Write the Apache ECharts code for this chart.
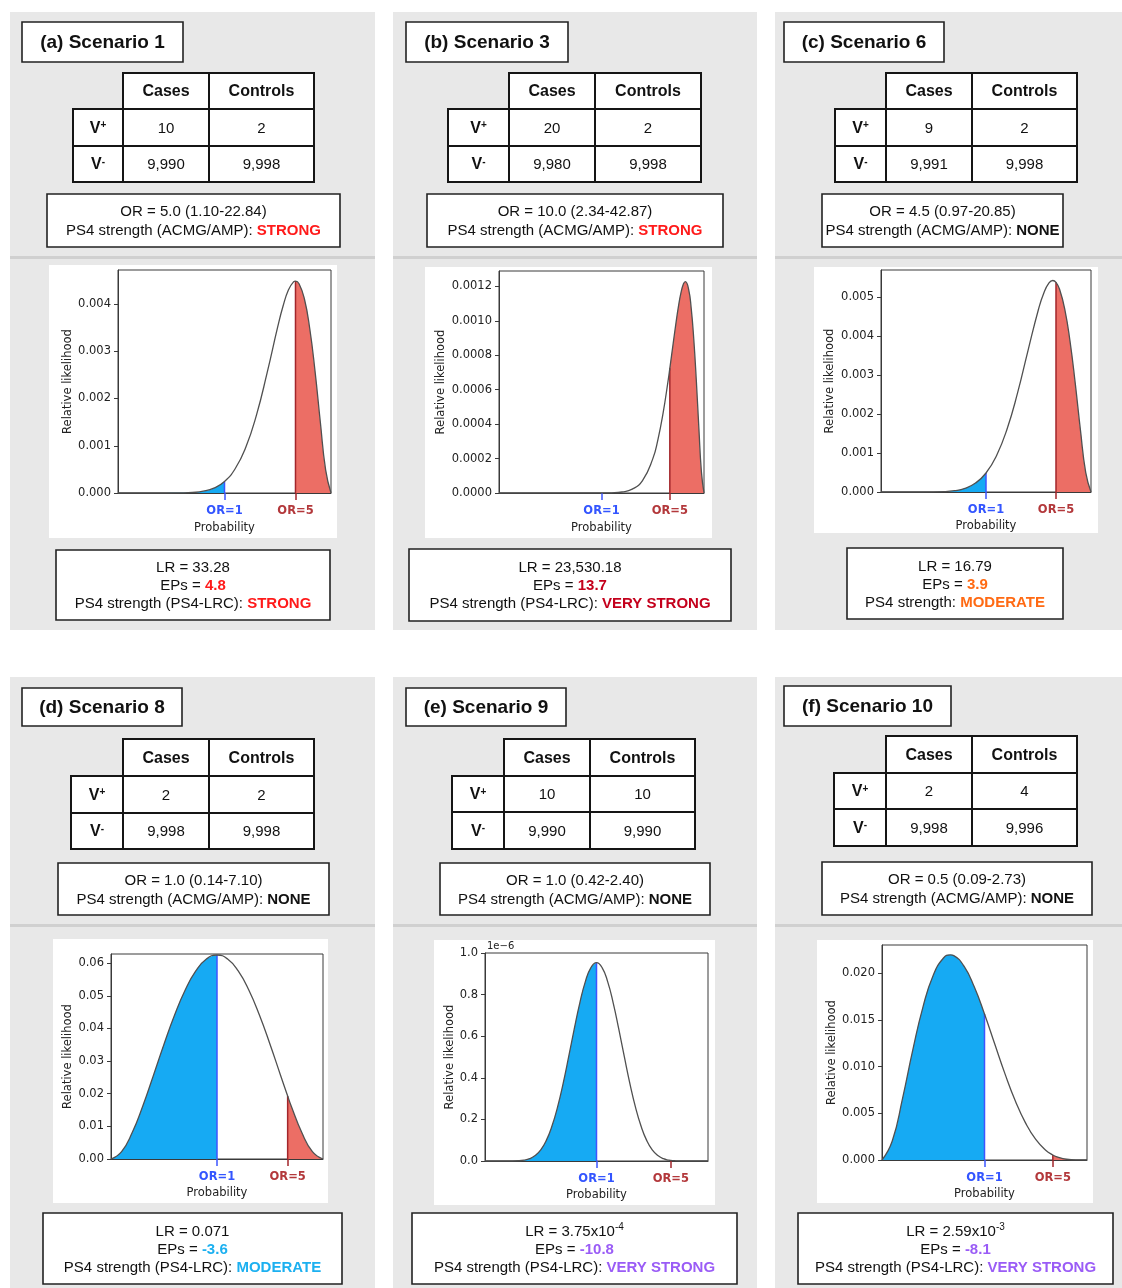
<!DOCTYPE html>
<html>
<head>
<meta charset="utf-8">
<script src="https://cdn.jsdelivr.net/npm/echarts@6.0.0/dist/echarts.min.js"></script>
<style>
html,body{margin:0;padding:0;background:#ffffff;}
#chart{width:1122px;height:1288px;}
</style>
</head>
<body>
<div id="chart"></div>
<script>
// ================= DATA =================
const panelTitles = ['(a) Scenario 1', '(b) Scenario 3', '(c) Scenario 6', '(d) Scenario 8', '(e) Scenario 9', '(f) Scenario 10'];
const tableHeaders = ['Cases', 'Controls'];
const rowSigns = ['+', '-'];
const casesVplus = ['10', '20', '9', '2', '10', '2'];
const controlsVplus = ['2', '2', '2', '2', '10', '4'];
const casesVminus = ['9,990', '9,980', '9,991', '9,998', '9,990', '9,998'];
const controlsVminus = ['9,998', '9,998', '9,998', '9,998', '9,990', '9,996'];
const orLines = ['OR = 5.0 (1.10-22.84)', 'OR = 10.0 (2.34-42.87)', 'OR = 4.5 (0.97-20.85)', 'OR = 1.0 (0.14-7.10)', 'OR = 1.0 (0.42-2.40)', 'OR = 0.5 (0.09-2.73)'];
const acmgLabel = 'PS4 strength (ACMG/AMP): ';
const acmgStrength = ['STRONG', 'STRONG', 'NONE', 'NONE', 'NONE', 'NONE'];
const lrValues = ['33.28', '23,530.18', '16.79', '0.071', '3.75x10', '2.59x10'];
const lrExponents = ['', '', '', '', '-4', '-3'];
const epsValues = ['4.8', '13.7', '3.9', '-3.6', '-10.8', '-8.1'];
const lrcLabels = ['PS4 strength (PS4-LRC): ', 'PS4 strength (PS4-LRC): ', 'PS4 strength: ', 'PS4 strength (PS4-LRC): ', 'PS4 strength (PS4-LRC): ', 'PS4 strength (PS4-LRC): '];
const lrcStrength = ['STRONG', 'VERY STRONG', 'MODERATE', 'MODERATE', 'VERY STRONG', 'VERY STRONG'];

const markerLabels = ['OR=1', 'OR=5'];
const markerProb = [0.5, 0.8333];
const xAxisName = 'Probability';
const yAxisName = 'Relative likelihood';

// relative likelihood curves (x = probability 0..1)
const prob_a = [0, 0.1, 0.2, 0.3, 0.35, 0.4, 0.45, 0.5, 0.55, 0.6, 0.65, 0.7, 0.75, 0.775, 0.8, 0.825, 0.8333, 0.85, 0.875, 0.9, 0.925, 0.95, 0.975, 1];
const lik_a  = [0, 0, 0.0000001, 0.0000029, 0.0000117, 0.0000377, 0.000103, 0.000244, 0.000513, 0.000967, 0.001649, 0.002542, 0.003520, 0.003957, 0.004295, 0.004473, 0.004486, 0.004430, 0.004111, 0.003487, 0.002580, 0.001497, 0.000485, 0];

const prob_b = [0, 0.5, 0.55, 0.6, 0.65, 0.7, 0.75, 0.775, 0.8, 0.825, 0.8333, 0.85, 0.8625, 0.875, 0.8875, 0.9, 0.9091, 0.925, 0.9375, 0.95, 0.9625, 0.975, 0.9875, 1];
const lik_b  = [0, 0.0000002, 0.0000013, 0.0000059, 0.0000222, 0.0000718, 0.0001982, 0.0003093, 0.0004612, 0.0006534, 0.0007246, 0.0008721, 0.0009813, 0.0010814, 0.0011630, 0.0012158, 0.0012280, 0.0011829, 0.0010745, 0.0008962, 0.0006548, 0.0003767, 0.0001215, 0];

const prob_c = [0, 0.1, 0.2, 0.3, 0.35, 0.4, 0.45, 0.5, 0.55, 0.6, 0.65, 0.7, 0.75, 0.775, 0.8, 0.8182, 0.8333, 0.85, 0.875, 0.9, 0.925, 0.95, 0.975, 1];
const lik_c  = [0, 0, 0.0000003, 0.0000096, 0.0000333, 0.0000944, 0.0002289, 0.0004883, 0.000933, 0.001612, 0.002537, 0.003632, 0.004693, 0.005106, 0.005369, 0.005431, 0.005384, 0.005211, 0.004698, 0.003874, 0.002789, 0.001576, 0.000498, 0];

const prob_d = [0, 0.05, 0.1, 0.15, 0.2, 0.25, 0.3, 0.35, 0.4, 0.45, 0.5, 0.55, 0.6, 0.65, 0.7, 0.75, 0.8, 0.8333, 0.85, 0.9, 0.95, 1];
const lik_d  = [0, 0.002256, 0.0081, 0.016256, 0.0256, 0.035156, 0.0441, 0.051756, 0.0576, 0.061256, 0.0625, 0.061256, 0.0576, 0.051756, 0.0441, 0.035156, 0.0256, 0.01929, 0.016256, 0.0081, 0.002256, 0];

const prob_e = [0, 0.1, 0.15, 0.175, 0.2, 0.225, 0.25, 0.275, 0.3, 0.325, 0.35, 0.375, 0.4, 0.425, 0.45, 0.475, 0.5, 0.525, 0.55, 0.575, 0.6, 0.625, 0.65, 0.675, 0.7, 0.725, 0.75, 0.775, 0.8, 0.825, 0.8333, 0.85, 0.9, 1];
const lik_e  = [0, 0, 1.1e-9, 3.9e-9, 1.10e-8, 2.60e-8, 5.37e-8, 9.92e-8, 1.668e-7, 2.581e-7, 3.713e-7, 5.002e-7, 6.34e-7, 7.595e-7, 8.624e-7, 9.30e-7, 9.537e-7, 9.30e-7, 8.624e-7, 7.595e-7, 6.34e-7, 5.002e-7, 3.713e-7, 2.581e-7, 1.668e-7, 9.92e-8, 5.37e-8, 2.60e-8, 1.10e-8, 3.9e-9, 2.7e-9, 1.1e-9, 0, 0];

const prob_f = [0, 0.05, 0.1, 0.15, 0.2, 0.25, 0.3, 0.3333, 0.35, 0.4, 0.45, 0.5, 0.55, 0.6, 0.65, 0.7, 0.75, 0.8, 0.8333, 0.85, 0.9, 0.95, 1];
const lik_f  = [0, 0.002036, 0.006561, 0.011745, 0.016384, 0.019775, 0.021609, 0.021948, 0.021867, 0.020736, 0.018530, 0.015625, 0.012404, 0.009216, 0.006340, 0.003969, 0.002197, 0.001024, 0.000536, 0.000366, 0.000081, 0.0000056, 0];

// y-axis ticks and their labels
const yTicks_a = [0, 0.001, 0.002, 0.003, 0.004];
const yTickLabels_a = ['0.000', '0.001', '0.002', '0.003', '0.004'];
const yTicks_b = [0, 0.0002, 0.0004, 0.0006, 0.0008, 0.0010, 0.0012];
const yTickLabels_b = ['0.0000', '0.0002', '0.0004', '0.0006', '0.0008', '0.0010', '0.0012'];
const yTicks_c = [0, 0.001, 0.002, 0.003, 0.004, 0.005];
const yTickLabels_c = ['0.000', '0.001', '0.002', '0.003', '0.004', '0.005'];
const yTicks_d = [0, 0.01, 0.02, 0.03, 0.04, 0.05, 0.06];
const yTickLabels_d = ['0.00', '0.01', '0.02', '0.03', '0.04', '0.05', '0.06'];
const yTicks_e = [0, 0.2e-6, 0.4e-6, 0.6e-6, 0.8e-6, 1.0e-6];
const yTickLabels_e = ['0.0', '0.2', '0.4', '0.6', '0.8', '1.0'];
const yTicks_f = [0, 0.005, 0.010, 0.015, 0.020];
const yTickLabels_f = ['0.000', '0.005', '0.010', '0.015', '0.020'];
const yAxisMax = [0.00472, 0.00129, 0.0057, 0.0628, 0.000001, 0.023];
const offsetText_e = '1e\u22126';

// ================= STYLE / LAYOUT =================
const FONT_BOX = "'Liberation Sans', Arial, sans-serif";
const FONT_PLOT = "'DejaVu Sans', sans-serif";
const acmgColors = ['#ff1a1a', '#ff1a1a', '#111111', '#111111', '#111111', '#111111'];
const lrColors = ['#ff1a1a', '#c4001c', '#ff6a13', '#1cb0f0', '#9a5cf6', '#9a5cf6'];
const BLUE_FILL = '#16aaf3', RED_FILL = '#ec6e65';
const BLUE_LINE = '#3d55ff', RED_LINE = '#a3262b';
const BLUE_TXT = '#3355ff', RED_TXT = '#b3383b';
const PLOT_FS = 11.5;

const layout = [
  {bg:[10,12,365,618], divider:256, title:[22,22,161,40], cols:[73,123,209,314], rows:[73,109,146,182], orBox:[47,194,293,53], plotBg:[49,265,288,273], axes:[118,270,331,493], lrBox:[56,550,274,70], yNameGap:44, xNameGap:29, labelMargin:12},
  {bg:[393,12,364,618], divider:256, title:[406,22,162,40], cols:[448,509,595,701], rows:[73,109,146,182], orBox:[427,194,296,53], plotBg:[425,267,287,271], axes:[499,271,704,493], lrBox:[409,549,322,72], yNameGap:52, xNameGap:29, labelMargin:12},
  {bg:[775,12,347,618], divider:256, title:[784,22,160,40], cols:[835,886,972,1077], rows:[73,109,146,182], orBox:[822,194,241,53], plotBg:[814,267,284,266], axes:[881,270,1091,492], lrBox:[847,548,216,71], yNameGap:45, xNameGap:28, labelMargin:12},
  {bg:[10,677,365,611], divider:924, title:[22,688,160,38], cols:[71,123,209,314], rows:[739,776,813,849], orBox:[58,863,271,52], plotBg:[53,939,275,264], axes:[111,954,323,1159], lrBox:[43,1213,299,71], yNameGap:36, xNameGap:28, labelMargin:12},
  {bg:[393,677,364,611], divider:924, title:[406,688,160,38], cols:[452,504,590,695], rows:[739,776,812,849], orBox:[440,863,270,52], plotBg:[434,940,281,265], axes:[485,953,708,1161], lrBox:[412,1213,325,71], yNameGap:29, xNameGap:28, labelMargin:12},
  {bg:[775,677,347,611], divider:924, title:[784,686,167,40], cols:[834,886,972,1077], rows:[736,773,809,846], orBox:[822,862,270,53], plotBg:[817,940,276,263], axes:[882,945,1087,1160], lrBox:[798,1213,315,71], yNameGap:43, xNameGap:28, labelMargin:12}
];

const plots = [
  {prob: prob_a, lik: lik_a, ticks: yTicks_a, labels: yTickLabels_a},
  {prob: prob_b, lik: lik_b, ticks: yTicks_b, labels: yTickLabels_b},
  {prob: prob_c, lik: lik_c, ticks: yTicks_c, labels: yTickLabels_c},
  {prob: prob_d, lik: lik_d, ticks: yTicks_d, labels: yTickLabels_d},
  {prob: prob_e, lik: lik_e, ticks: yTicks_e, labels: yTickLabels_e},
  {prob: prob_f, lik: lik_f, ticks: yTicks_f, labels: yTickLabels_f}
];

// ================= GRAPHIC (boxes, tables, texts) =================
const G = [];
function R(x, y, w, h, fill, stroke, lw, z) {
  G.push({type: 'rect', silent: true, z: z, shape: {x: x, y: y, width: w, height: h},
    style: {fill: fill, stroke: stroke || null, lineWidth: lw || 0}});
}
function T(x, y, str, style, z) {
  G.push({type: 'text', silent: true, z: z || 30, x: x, y: y,
    style: Object.assign({text: str, x: 0, y: 0, align: 'center', verticalAlign: 'middle',
      textAlign: 'center', textVerticalAlign: 'middle', fill: '#111111',
      fontFamily: FONT_BOX, fontSize: 15}, style)});
}

layout.forEach(function (L, i) {
  R(L.bg[0], L.bg[1], L.bg[2], L.bg[3], '#e8e8e8', null, 0, -20);
  R(L.bg[0], L.divider, L.bg[2], 3, '#d0d0d0', null, 0, -19);
  R(L.title[0], L.title[1], L.title[2], L.title[3], '#ffffff', '#222222', 1.6, 10);
  T(L.title[0] + L.title[2] / 2, L.title[1] + L.title[3] / 2 + 1, panelTitles[i], {fontSize: 19, fontWeight: 'bold'});
  const c = L.cols, r = L.rows;
  const cells = [
    [c[1], r[0], c[2], r[1], '{h|' + tableHeaders[0] + '}'],
    [c[2], r[0], c[3], r[1], '{h|' + tableHeaders[1] + '}'],
    [c[0], r[1], c[1], r[2], '{h|V}{s|' + rowSigns[0] + '}'],
    [c[0], r[2], c[1], r[3], '{h|V}{s|' + rowSigns[1] + '}'],
    [c[1], r[1], c[2], r[2], casesVplus[i]],
    [c[2], r[1], c[3], r[2], controlsVplus[i]],
    [c[1], r[2], c[2], r[3], casesVminus[i]],
    [c[2], r[2], c[3], r[3], controlsVminus[i]]
  ];
  cells.forEach(function (cl) {
    R(cl[0], cl[1], cl[2] - cl[0], cl[3] - cl[1], '#ffffff', '#151515', 2, 10);
    T((cl[0] + cl[2]) / 2, (cl[1] + cl[3]) / 2 + 1, cl[4], {
      fontSize: 15,
      rich: {
        h: {fontSize: 16, fontWeight: 'bold', fontFamily: FONT_BOX, fill: '#111111'},
        s: {fontSize: 10, fontWeight: 'bold', fontFamily: FONT_BOX, fill: '#111111', verticalAlign: 'top'}
      }
    });
  });
  R(L.orBox[0], L.orBox[1], L.orBox[2], L.orBox[3], '#ffffff', '#222222', 1.6, 10);
  T(L.orBox[0] + L.orBox[2] / 2, L.orBox[1] + L.orBox[3] / 2 + 1,
    orLines[i] + '\n' + acmgLabel + '{s|' + acmgStrength[i] + '}',
    {lineHeight: 19, rich: {s: {fill: acmgColors[i], fontWeight: 'bold', fontSize: 15, fontFamily: FONT_BOX, lineHeight: 19}}});
  R(L.plotBg[0], L.plotBg[1], L.plotBg[2], L.plotBg[3], '#ffffff', null, 0, -10);
  R(L.lrBox[0], L.lrBox[1], L.lrBox[2], L.lrBox[3], '#ffffff', '#222222', 1.6, 10);
  const line1 = 'LR = ' + lrValues[i] + (lrExponents[i] ? '{e|' + lrExponents[i] + '}' : '');
  const line2 = 'EPs = {c|' + epsValues[i] + '}';
  const line3 = lrcLabels[i] + '{c|' + lrcStrength[i] + '}';
  T(L.lrBox[0] + L.lrBox[2] / 2, L.lrBox[1] + L.lrBox[3] / 2 + 1, line1 + '\n' + line2 + '\n' + line3,
    {lineHeight: 18, rich: {
      c: {fill: lrColors[i], fontWeight: 'bold', fontSize: 15, fontFamily: FONT_BOX, lineHeight: 18},
      e: {fontSize: 10, fontFamily: FONT_BOX, fill: '#111111', verticalAlign: 'top'}
    }});
});
T(layout[4].axes[0] + 2, layout[4].axes[1] - 7, offsetText_e,
  {align: 'left', textAlign: 'left', fontFamily: FONT_PLOT, fontSize: 10, fill: '#222222'});

// ================= CHART =================
const grids = [], xAxes = [], yAxes = [], series = [];
function nearestLabel(ticks, labels, v) {
  let best = 0, bd = Infinity;
  ticks.forEach(function (t, k) { const d = Math.abs(t - v); if (d < bd) { bd = d; best = k; } });
  return labels[best];
}
const plotText = {fontFamily: FONT_PLOT, fontSize: PLOT_FS, color: '#222222'};

plots.forEach(function (pl, i) {
  const L = layout[i];
  const l = L.axes[0], t = L.axes[1], r = L.axes[2], b = L.axes[3];
  grids.push({left: l, top: t, width: r - l, height: b - t, show: true, borderColor: '#3a3a3a', borderWidth: 1, backgroundColor: 'transparent'});
  xAxes.push({
    gridIndex: i, type: 'value', min: 0, max: 1,
    axisLine: {show: true, onZero: false, lineStyle: {color: '#3a3a3a', width: 1}},
    axisTick: {show: true, customValues: [markerProb[0]], length: 7, inside: false, lineStyle: {color: BLUE_LINE, width: 1.5}},
    axisLabel: {show: true, customValues: [markerProb[0]], formatter: function () { return markerLabels[0]; },
      color: BLUE_TXT, fontWeight: 'bold', fontSize: PLOT_FS, fontFamily: FONT_PLOT, margin: L.labelMargin},
    splitLine: {show: false},
    name: xAxisName, nameLocation: 'middle', nameGap: L.xNameGap, nameTextStyle: plotText
  });
  yAxes.push({
    gridIndex: i, type: 'value', min: 0, max: yAxisMax[i],
    axisLine: {show: true, onZero: false, lineStyle: {color: '#3a3a3a', width: 1}},
    axisTick: {show: true, customValues: pl.ticks, length: 4, inside: false, lineStyle: {color: '#3a3a3a'}},
    axisLabel: {show: true, customValues: pl.ticks, margin: 7, fontSize: PLOT_FS, fontFamily: FONT_PLOT, color: '#222222',
      formatter: function (v) { return nearestLabel(pl.ticks, pl.labels, v); }},
    splitLine: {show: false},
    name: yAxisName, nameLocation: 'middle', nameRotate: 90, nameGap: L.yNameGap, nameTextStyle: plotText
  });

  const pts = pl.prob.map(function (p, k) { return [p, pl.lik[k]]; });
  const bluePts = pts.filter(function (d) { return d[0] <= markerProb[0]; });
  const redPts = pts.filter(function (d) { return d[0] >= markerProb[1]; });
  const v1 = pl.lik[pl.prob.indexOf(markerProb[0])];
  const v5 = pl.lik[pl.prob.indexOf(markerProb[1])];
  const common = {type: 'line', xAxisIndex: i, yAxisIndex: i, showSymbol: false, symbol: 'none', silent: true, animation: false, smooth: 0.5};
  series.push(Object.assign({}, common, {data: bluePts, lineStyle: {width: 0, opacity: 0}, areaStyle: {color: BLUE_FILL, opacity: 1}, z: 2}));
  series.push(Object.assign({}, common, {data: redPts, lineStyle: {width: 0, opacity: 0}, areaStyle: {color: RED_FILL, opacity: 1}, z: 2}));
  series.push(Object.assign({}, common, {smooth: false, data: [[markerProb[0], 0], [markerProb[0], v1]], lineStyle: {color: BLUE_LINE, width: 1.5}, z: 3}));
  series.push(Object.assign({}, common, {smooth: false, data: [[markerProb[1], 0], [markerProb[1], v5]], lineStyle: {color: RED_LINE, width: 1.5}, z: 3}));
  series.push(Object.assign({}, common, {data: pts, lineStyle: {color: '#505050', width: 1.3}, z: 4}));
});
plots.forEach(function (pl, i) {
  const L = layout[i];
  const l = L.axes[0], t = L.axes[1], r = L.axes[2], b = L.axes[3];
  grids.push({left: l, top: t, width: r - l, height: b - t, show: false});
  xAxes.push({
    gridIndex: 6 + i, type: 'value', min: 0, max: 1,
    axisLine: {show: false},
    axisTick: {show: true, customValues: [markerProb[1]], length: 7, inside: false, lineStyle: {color: RED_LINE, width: 1.5}},
    axisLabel: {show: true, customValues: [markerProb[1]], formatter: function () { return markerLabels[1]; },
      color: RED_TXT, fontWeight: 'bold', fontSize: PLOT_FS, fontFamily: FONT_PLOT, margin: L.labelMargin},
    splitLine: {show: false}
  });
  yAxes.push({gridIndex: 6 + i, type: 'value', min: 0, max: 1, show: false});
});

const chart = echarts.init(document.getElementById('chart'), null, {renderer: 'canvas'});
chart.setOption({
  animation: false,
  backgroundColor: '#ffffff',
  graphic: {elements: G},
  grid: grids,
  xAxis: xAxes,
  yAxis: yAxes,
  series: series
});
</script>
</body>
</html>
